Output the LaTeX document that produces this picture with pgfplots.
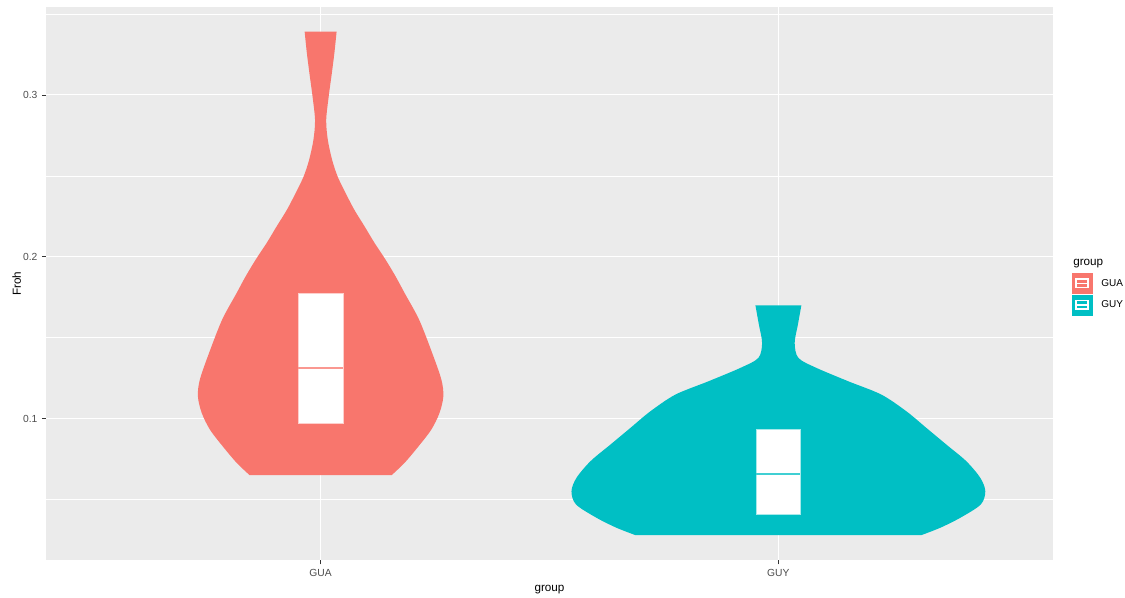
\documentclass[border=0pt]{standalone}
\usepackage{pgfplots}
\pgfplotsset{compat=1.18}
\usepackage{pgfplotstable}
\usepgfplotslibrary{fillbetween}
\usepackage{fontspec}
\setmainfont{Liberation Sans}

\definecolor{panelbg}{HTML}{EBEBEB}
\definecolor{guacol}{HTML}{F8766D}
\definecolor{guycol}{HTML}{00BFC4}
\definecolor{tickgray}{HTML}{333333}
\definecolor{labelgray}{HTML}{4D4D4D}

% violin outlines: value (y) and half width (w, in category units)
\pgfplotstableread{
y        w
0.33907  0.0349
0.32593  0.0301
0.31235  0.0240
0.30000  0.0181
0.28457  0.0122
0.27222  0.0157
0.25988  0.0251
0.24957  0.0371
0.23932  0.0546
0.22901  0.0736
0.21870  0.0961
0.20846  0.1179
0.19815  0.1419
0.18784  0.1638
0.17759  0.1834
0.16111  0.2151
0.14074  0.2434
0.12407  0.2638
0.11377  0.2681
0.10352  0.2598
0.09321  0.2419
0.08290  0.2140
0.07265  0.1834
0.06500  0.1550
}\guatab

\pgfplotstableread{
y        w
0.16994  0.0502
0.15802  0.0426
0.14673  0.0356
0.13747  0.0437
0.13130  0.0830
0.12302  0.1528
0.11481  0.2249
0.10451  0.2795
0.09426  0.3231
0.08395  0.3668
0.07364  0.4105
0.06340  0.4410
0.05512  0.4520
0.04691  0.4421
0.03870  0.3974
0.03253  0.3537
0.02796  0.3122
}\guytab

\begin{document}
\begin{tikzpicture}
\path (-46pt,-35pt) rectangle (1079pt,561pt);
\begin{axis}[
  at={(0,0)}, anchor=south west,
  width=1008pt, height=554pt, scale only axis,
  xmin=0.4, xmax=2.6, ymin=0.0123, ymax=0.3543,
  axis background/.style={fill=panelbg},
  axis line style={draw=none},
  xtick={1,2}, xticklabels={GUA,GUY},
  ytick={0.1,0.2,0.3}, yticklabels={0.1,0.2,0.3},
  minor ytick={0.05,0.15,0.25,0.35},
  grid=both,
  major grid style={white, line width=1.1pt},
  minor grid style={white, line width=0.55pt},
  tick pos=left,
  tick align=outside,
  major tick length=4pt, minor tick length=0pt,
  tick style={draw=tickgray, line width=0.7pt},
  tick label style={font=\fontsize{10.3}{12}\selectfont, text=labelgray},
  xticklabel style={anchor=north, yshift=-1pt},
  yticklabel style={anchor=east, xshift=-1pt},
  xlabel={group}, ylabel={Froh},
  label style={font=\fontsize{11.7}{13}\selectfont, text=black},
  xlabel style={at={(rel axis cs:0.5,-0.056)}, anchor=base},
  ylabel style={at={(rel axis cs:-0.0248,0.5)}, anchor=base, rotate=0},
  legend style={draw=none, fill=none, at={(rel axis cs:1.0188,0.519)},
    anchor=north west, inner sep=0pt, outer sep=0pt,
    font=\fontsize{10}{11}\selectfont, row sep=1pt,
    /tikz/every odd column/.append style={column sep=7pt}},
  legend cell align=left,
]
% GUA violin
\addplot[draw=none, name path=gual, smooth, forget plot] table[x expr=1-\thisrow{w}, y=y]{\guatab};
\addplot[draw=none, name path=guar, smooth, forget plot] table[x expr=1+\thisrow{w}, y=y]{\guatab};
\addplot[fill=guacol, draw=none, forget plot] fill between[of=gual and guar, reverse=true];
% GUY violin
\addplot[draw=none, name path=guyl, smooth, forget plot] table[x expr=2-\thisrow{w}, y=y]{\guytab};
\addplot[draw=none, name path=guyr, smooth, forget plot] table[x expr=2+\thisrow{w}, y=y]{\guytab};
\addplot[fill=guycol, draw=none, forget plot] fill between[of=guyl and guyr, reverse=true];
% boxes (quartiles) and medians
\addplot[fill=white, draw=guacol!35!white, line width=0.5pt, forget plot]
  coordinates {(0.951,0.0969) (1.049,0.0969) (1.049,0.1772) (0.951,0.1772)} -- cycle;
\addplot[draw=guacol!75!white, line width=1.8pt, forget plot]
  coordinates {(0.951,0.1310) (1.049,0.1310)};
\addplot[fill=white, draw=guycol!35!white, line width=0.5pt, forget plot]
  coordinates {(1.952,0.0407) (2.048,0.0407) (2.048,0.0932) (1.952,0.0932)} -- cycle;
\addplot[draw=guycol!75!white, line width=1.8pt, forget plot]
  coordinates {(1.952,0.0659) (2.048,0.0659)};
% legend keys
\addlegendimage{legend image code/.code={
  \fill[guacol] (0pt,-10pt) rectangle (20pt,10pt);
  \draw[white, line width=1.6pt] (4pt,-4.2pt) rectangle (16pt,4.2pt);
  \draw[white, line width=1.6pt] (4pt,0pt) -- (16pt,0pt);}}
\addlegendentry{GUA}
\addlegendimage{legend image code/.code={
  \fill[guycol] (0pt,-10pt) rectangle (20pt,10pt);
  \draw[white, line width=1.6pt] (4pt,-4.2pt) rectangle (16pt,4.2pt);
  \draw[white, line width=1.6pt] (4pt,0pt) -- (16pt,0pt);}}
\addlegendentry{GUY}
\end{axis}
\node[anchor=base west, inner sep=0pt, font=\fontsize{11.7}{13}\selectfont] at (1028pt,295pt) {group};
\end{tikzpicture}
\end{document}
